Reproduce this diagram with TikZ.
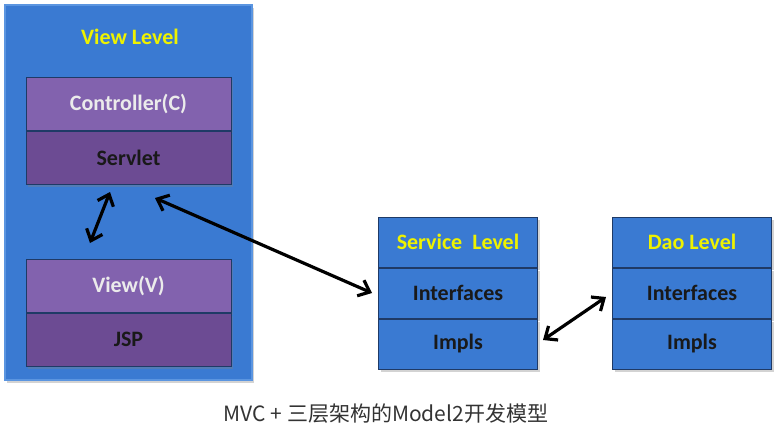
\documentclass[tikz,border=0pt]{standalone}
\usepackage{fontspec}
\setmainfont{Carlito}
\newfontfamily\cjkfont{Noto Sans CJK SC}
\usepackage{tikz}
\usetikzlibrary{shapes,arrows.meta,positioning,shadows,calc}
\definecolor{levelblue}{HTML}{3A7AD2}
\definecolor{leveledge}{HTML}{5B95E0}
\definecolor{levelline}{HTML}{1F3A66}
\definecolor{mvcpurple}{HTML}{8262AE}
\definecolor{mvcdarkpurple}{HTML}{6C4B93}
\definecolor{titleyellow}{HTML}{EEF200}

\begin{document}
\begin{tikzpicture}[x=0.5pt, y=-0.5pt,
    level/.style={rectangle, draw=leveledge, fill=levelblue, line width=0.6pt,
                  minimum width=123.5pt, minimum height=187.5pt,
                  drop shadow={shadow xshift=1pt, shadow yshift=-1.5pt, opacity=0.35}},
    title/.style={text=titleyellow, font=\fontsize{11}{13}\selectfont\bfseries},
    mvctop/.style={rectangle, draw=levelline, fill=mvcpurple, text=white!92!black, line width=0.5pt,
                   minimum width=102.5pt, minimum height=26.5pt, font=\fontsize{11}{13}\selectfont\bfseries,
                   drop shadow={shadow xshift=1pt, shadow yshift=-1.5pt, opacity=0.35}},
    mvcbottom/.style={mvctop, fill=mvcdarkpurple, text=black!90},
    cell/.style={rectangle, draw=levelline, fill=levelblue, text=black!90, line width=0.5pt,
                 minimum width=79.5pt, minimum height=25pt, font=\fontsize{11}{13}\selectfont\bfseries,
                 drop shadow={shadow xshift=1pt, shadow yshift=-1.5pt, opacity=0.35}},
    link/.style={{Straight Barb[length=5pt,width=8.5pt]}-{Straight Barb[length=5pt,width=8.5pt]},
                 line width=1.6pt, black}
]
    \useasboundingbox (0,0) rectangle (774,434);

    % View Level
    \node[level] (view) at (128.5,192.5) {};
    \node[title] (viewtitle) at (130,37) {View Level};
    \node[mvctop] (ctrl) at (128.5,103.5) {Controller(C)};
    \node[mvcbottom, below=0pt of ctrl] (servlet) {Servlet};
    \node[mvctop] (viewv) at (128.5,285.5) {View(V)};
    \node[mvcbottom, below=0pt of viewv] (jsp) {JSP};

    % Service Level
    \node[cell, title] (svctitle) at (458,242) {Service\ \ Level};
    \node[cell, below=0pt of svctitle] (svcif) {Interfaces};
    \node[cell, below=0pt of svcif] (svcimpl) {Impls};

    % Dao Level
    \node[cell, title] (daotitle) at (692,242) {Dao Level};
    \node[cell, below=0pt of daotitle] (daoif) {Interfaces};
    \node[cell, below=0pt of daoif] (daoimpl) {Impls};

    % Connections
    \coordinate (ctrlend) at (110,192);
    \coordinate (viewend) at (90,243);
    \coordinate (servletend) at (155,198);
    \coordinate (svcend) at (372,293);
    \coordinate (implend) at (543,340);
    \coordinate (daoend) at (606,297);
    \draw[link] (ctrlend) -- (viewend);
    \draw[link] (servletend) -- (svcend);
    \draw[link] (implend) -- (daoend);

    % Caption
    \node[text=black!80, font=\cjkfont\fontsize{10.5}{12}\selectfont] (caption) at (386,414)
        {MVC + 三层架构的Model2开发模型};
\end{tikzpicture}
\end{document}
